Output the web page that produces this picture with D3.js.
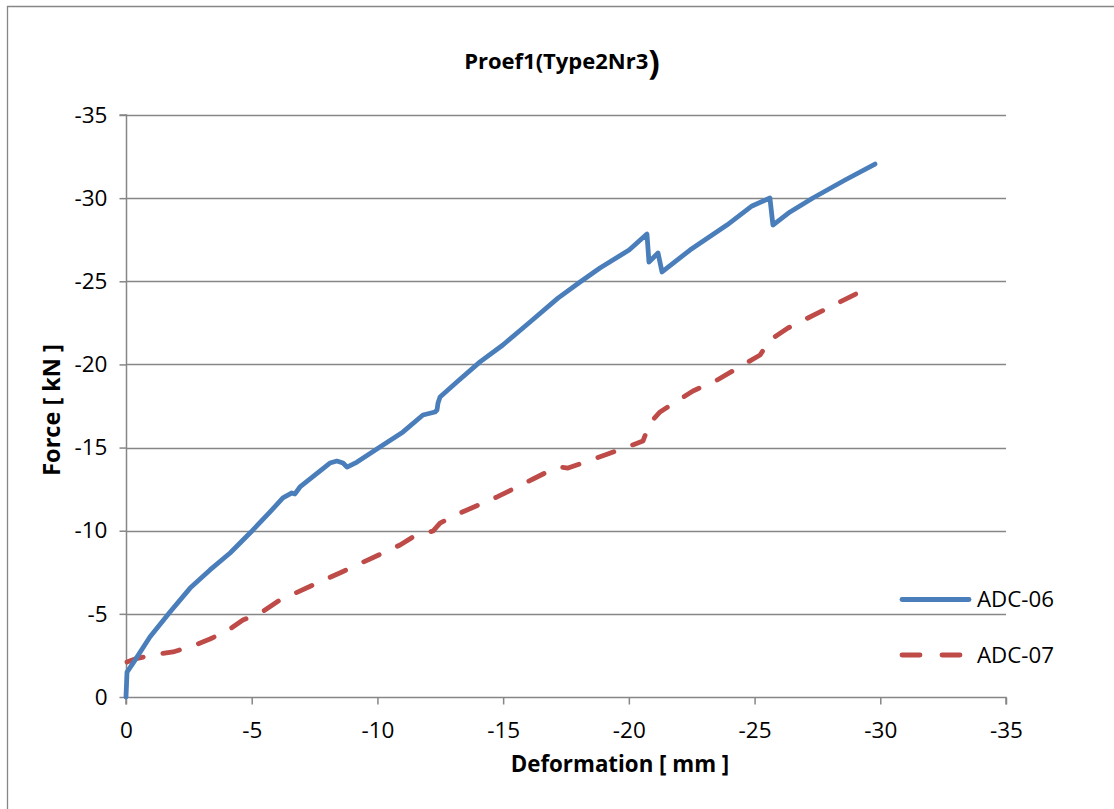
<!DOCTYPE html>
<html>
<head>
<meta charset="utf-8">
<script src="https://cdn.jsdelivr.net/npm/d3@7"></script>
<style>
  html, body { margin: 0; padding: 0; background: #fff; }
  svg { display: block; }
  text { font-family: "Open Sans", "Liberation Sans", sans-serif; fill: #000; }
</style>
</head>
<body>
<svg id="chart" width="1114" height="809"></svg>
<script>
// ---- data ----
const titleText = "Proef1(Type2Nr3";
const xLabel = "Deformation [ mm ]";
const yLabel = "Force [ kN ]";
const xTicks = [0, -5, -10, -15, -20, -25, -30, -35];
const yTicks = [0, -5, -10, -15, -20, -25, -30, -35];
const seriesNames = ["ADC-06", "ADC-07"];

const adc06X = [0, -0.04, -0.36, -0.95, -1.75, -2.55, -3.34, -4.14, -4.97, -5.73, -6.24, -6.60, -6.72, -6.92, -8.11, -8.39, -8.63, -8.79, -9.19, -10.10, -11.02, -11.81, -12.29, -12.37, -12.41, -12.49, -13.16, -14.08, -14.99, -16.07, -17.18, -18.06, -18.85, -20.01, -20.72, -20.80, -21.16, -21.32, -22.43, -23.90, -24.90, -25.61, -25.73, -26.41, -27.32, -28.60, -29.79];
const adc06Y = [0, -1.50, -2.22, -3.61, -5.11, -6.55, -7.64, -8.66, -9.92, -11.13, -11.97, -12.27, -12.21, -12.63, -14.07, -14.19, -14.07, -13.83, -14.13, -15.03, -15.94, -16.96, -17.14, -17.26, -17.68, -18.04, -18.94, -20.15, -21.17, -22.55, -23.99, -24.96, -25.80, -26.88, -27.84, -26.16, -26.70, -25.56, -26.88, -28.38, -29.53, -30.01, -28.38, -29.17, -30.01, -31.09, -32.05];

const adc07X = [-0.04, -0.36, -1.07, -1.87, -2.66, -3.34, -4.02, -4.65, -5.41, -6.12, -8.59, -10.90, -11.41, -12.21, -12.49, -13.28, -14.76, -16.19, -16.98, -17.26, -17.58, -19.05, -20.56, -20.84, -21.24, -22.55, -23.51, -25.22, -25.61, -26.33, -29.27];
const adc07Y = [-2.10, -2.29, -2.53, -2.71, -3.07, -3.49, -3.97, -4.63, -5.11, -5.83, -7.52, -9.14, -9.62, -9.98, -10.46, -11.06, -12.03, -13.11, -13.71, -13.83, -13.77, -14.55, -15.39, -16.48, -17.14, -18.40, -19.06, -20.57, -21.47, -22.19, -24.42];

// ---- layout ----
const svg = d3.select("#chart");
const plot = { left: 126, right: 1006, top: 115, bottom: 697 };
const gridColor = "#868686";
const colors = ["#4a7ebb", "#be4b48"];

const x = d3.scaleLinear().domain([0, -35]).range([plot.left, plot.right]);
const y = d3.scaleLinear().domain([0, -35]).range([plot.bottom, plot.top]);

// outer chart border (partially clipped)
svg.append("path")
  .attr("d", "M7.5,809 L7.5,6.5 L1114,6.5")
  .attr("fill", "none").attr("stroke", gridColor).attr("stroke-width", 1.3);

// gridlines
svg.append("g").selectAll("line").data(yTicks.filter(d => d !== 0)).join("line")
  .attr("x1", plot.left).attr("x2", plot.right)
  .attr("y1", d => Math.round(y(d)) + 0.5).attr("y2", d => Math.round(y(d)) + 0.5)
  .attr("stroke", gridColor).attr("stroke-width", 1.5);

// y axis
const yAxis = d3.axisLeft(y).tickValues(yTicks).tickSize(7).tickPadding(12).tickFormat(d => d === 0 ? "0" : String(d));
const gy = svg.append("g").attr("transform", `translate(${plot.left + 0.5},0)`).call(yAxis);
gy.select(".domain").attr("stroke", gridColor).attr("stroke-width", 1.5).attr("d", `M-7,${plot.top}H0V${plot.bottom}`);
gy.selectAll(".tick line").attr("stroke", gridColor).attr("stroke-width", 1.5);
gy.selectAll(".tick text").attr("font-size", 22.5).attr("font-family", "Open Sans").attr("fill", "#000");

// x axis
const xAxis = d3.axisBottom(x).tickValues(xTicks).tickSize(7).tickPadding(18).tickFormat(d => d === 0 ? "0" : String(d));
const gx = svg.append("g").attr("transform", `translate(0,${plot.bottom + 0.5})`).call(xAxis);
gx.select(".domain").attr("stroke", gridColor).attr("stroke-width", 1.5).attr("d", `M${plot.left},7V0H${plot.right}V7`);
gx.selectAll(".tick line").attr("stroke", gridColor).attr("stroke-width", 1.5);
gx.selectAll(".tick text").attr("font-size", 22.5).attr("font-family", "Open Sans").attr("fill", "#000");

// lines
const line = d3.line().x(d => x(d[0])).y(d => y(d[1]));
const s06 = adc06X.map((v, i) => [v, adc06Y[i]]);
const s07 = adc07X.map((v, i) => [v, adc07Y[i]]);

svg.append("path").datum(s07).attr("d", line)
  .attr("fill", "none").attr("stroke", colors[1]).attr("stroke-width", 4.8)
  .attr("stroke-dasharray", "17,20").attr("stroke-linecap", "round").attr("stroke-linejoin", "round");
svg.append("path").datum(s06).attr("d", line)
  .attr("fill", "none").attr("stroke", colors[0]).attr("stroke-width", 4.8)
  .attr("stroke-linecap", "round").attr("stroke-linejoin", "round");

// title
const t = svg.append("text").attr("x", 562).attr("y", 69).attr("text-anchor", "middle")
  .attr("font-weight", "bold").attr("font-size", 22);
t.append("tspan").text(titleText);
t.append("tspan").attr("font-size", 34).attr("dy", 5).text(")");

// axis labels
svg.append("text").attr("x", 620).attr("y", 772).attr("text-anchor", "middle")
  .attr("font-weight", "bold").attr("font-size", 22.3).text(xLabel);
svg.append("text").attr("transform", "translate(60,410) rotate(-90)").attr("text-anchor", "middle")
  .attr("font-weight", "bold").attr("font-size", 23.5).text(yLabel);

// legend
const legendY = [599.5, 655];
svg.append("line").attr("x1", 902).attr("x2", 969).attr("y1", legendY[0]).attr("y2", legendY[0])
  .attr("stroke", colors[0]).attr("stroke-width", 4.8).attr("stroke-linecap", "round");
svg.append("line").attr("x1", 902).attr("x2", 962).attr("y1", legendY[1]).attr("y2", legendY[1])
  .attr("stroke", colors[1]).attr("stroke-width", 4.8).attr("stroke-linecap", "round")
  .attr("stroke-dasharray", "18,22");
seriesNames.forEach((n, i) => {
  svg.append("text").attr("x", 977).attr("y", legendY[i] + 7.5).attr("font-size", 22.3).text(n);
});
</script>
</body>
</html>
